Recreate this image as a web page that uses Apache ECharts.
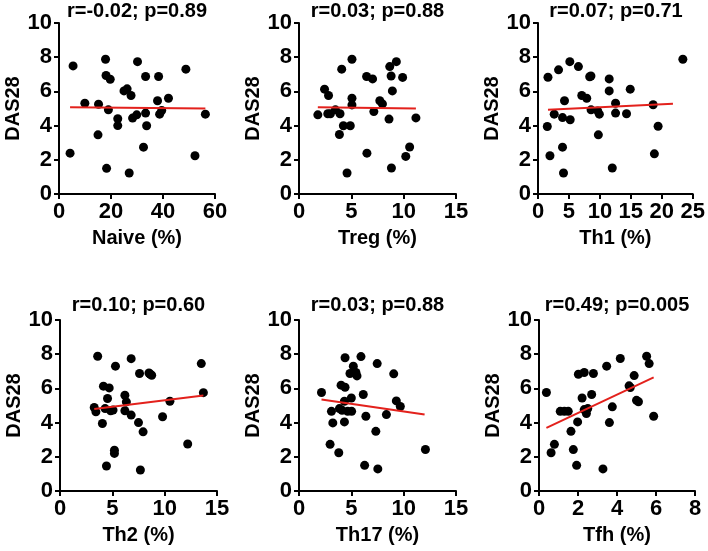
<!DOCTYPE html>
<html>
<head>
<meta charset="utf-8">
<script src="https://cdn.jsdelivr.net/npm/echarts@6/dist/echarts.min.js"></script>
<style>html,body{margin:0;padding:0;background:#fff}#c{width:708px;height:551px}</style>
</head>
<body>
<div id="c"></div>
<script>
// ---- Data ----
var titles = ['r=-0.02; p=0.89','r=0.03; p=0.88','r=0.07; p=0.71','r=0.10; p=0.60','r=0.03; p=0.88','r=0.49; p=0.005'];
var xNames = ['Naive (%)','Treg (%)','Th1 (%)','Th2 (%)','Th17 (%)','Tfh (%)'];
var xMax = [60,15,25,15,15,8];
var xInterval = [20,5,5,5,5,2];

var naiveX = [5.42,4.26,9.94,15.2,15.0,17.9,18.1,19.7,19.0,18.3,22.6,22.6,25.0,26.2,27.7,28.3,29.9,30.2,27.0,33.3,33.3,33.7,32.5,38.3,37.9,38.7,39.5,42.1,48.8,52.3,56.3];
var naiveY = [7.49,2.39,5.31,5.25,3.46,7.88,6.93,6.71,4.92,1.50,4.40,4.00,6.03,6.15,5.76,4.44,4.63,7.74,1.23,4.73,6.87,3.99,2.74,6.87,5.45,4.67,4.88,5.60,7.30,2.24,4.67];
var naiveFit = [[4.26,5.08],[56.3,5.00]];

var tregX = [1.80,2.44,2.82,2.75,3.00,3.48,3.92,3.86,4.24,4.90,4.08,5.06,5.06,5.06,4.59,6.46,7.03,6.49,7.15,7.72,7.97,8.60,8.67,8.80,8.92,8.83,9.30,9.90,10.20,10.57,11.17];
var tregY = [4.63,6.13,5.76,4.69,4.69,4.92,4.69,3.48,3.99,3.99,7.30,7.88,5.60,5.21,1.23,6.87,6.73,2.39,4.82,5.45,5.27,4.38,7.45,6.90,6.03,1.52,7.74,6.82,2.20,2.75,4.45];
var tregFit = [[1.80,5.08],[11.17,5.00]];

var th1X = [1.61,1.50,1.93,2.62,3.32,3.96,4.12,3.96,4.28,5.20,5.14,6.53,7.07,7.87,8.35,8.55,8.57,9.64,9.91,9.75,11.5,11.5,12.53,12.53,12.0,14.3,14.9,18.6,18.8,19.4,23.4];
var th1Y = [6.83,3.95,2.24,4.67,7.26,2.74,1.23,4.47,5.45,4.34,7.74,7.45,5.76,5.60,6.86,6.90,4.92,4.86,4.67,3.46,6.73,6.03,5.31,4.73,1.52,4.69,6.13,5.22,2.35,3.96,7.88];
var th1Fit = [[1.61,4.92],[21.8,5.28]];

var th2X = [3.60,6.80,5.30,7.60,8.50,8.76,8.60,4.15,4.70,4.54,6.20,6.34,3.27,3.43,4.31,4.84,5.07,6.20,6.80,4.05,7.50,7.94,5.20,5.20,4.44,7.68,9.80,10.5,12.2,13.5,13.7];
var th2Y = [7.88,7.74,7.30,6.87,6.90,6.77,6.84,6.13,6.03,5.41,5.60,5.21,4.88,4.63,4.82,4.69,4.73,4.69,4.44,3.95,4.00,3.46,2.39,2.20,1.46,1.23,4.34,5.25,2.75,7.45,5.75];
var th2Fit = [[3.27,4.80],[13.7,5.58]];

var th17X = [4.40,5.92,5.19,7.47,4.87,5.44,5.54,9.05,4.02,4.40,2.15,6.14,5.00,4.34,3.86,3.10,4.11,4.65,5.03,6.39,8.35,3.23,4.34,7.34,2.97,3.80,6.27,7.53,9.30,9.68,12.08];
var th17Y = [7.79,7.86,7.30,7.45,6.87,6.93,6.73,6.85,6.19,6.07,5.76,5.64,5.44,5.25,4.82,4.66,4.72,4.66,4.66,4.37,4.47,3.98,4.04,3.49,2.73,2.24,1.50,1.29,5.27,4.94,2.43];
var th17Fit = [[2.15,5.35],[12.0,4.47]];

var tfhX = [0.38,0.62,0.79,1.09,1.30,1.50,1.64,1.76,1.93,1.98,2.02,2.32,2.79,2.21,2.70,2.32,2.50,2.43,3.76,3.61,3.47,4.17,3.28,4.62,4.68,4.88,5.00,5.10,5.52,5.65,5.88];
var tfhY = [5.76,2.24,2.73,4.66,4.66,4.66,3.49,2.42,1.50,4.04,6.83,6.93,6.87,5.44,5.64,4.76,4.82,4.53,4.92,4.00,7.30,7.75,1.29,6.15,6.05,6.75,5.30,5.22,7.88,7.45,4.37];
var tfhFit = [[0.38,3.69],[5.88,6.65]];

var yTicks = [0,2,4,6,8,10];

var allX = [naiveX,tregX,th1X,th2X,th17X,tfhX];
var allY = [naiveY,tregY,th1Y,th2Y,th17Y,tfhY];
var allFit = [naiveFit,tregFit,th1Fit,th2Fit,th17Fit,tfhFit];

// ---- Layout ----
var gridsPx = [
  {left:59, top:23, width:156, height:171, tt:1},
  {left:299, top:23, width:157, height:171, tt:1},
  {left:538, top:23, width:156, height:171, tt:1},
  {left:60, top:320, width:157, height:171, tt:295},
  {left:299, top:320, width:157, height:171, tt:295},
  {left:539, top:320, width:156, height:171, tt:295}
];
var FONT = '"Liberation Sans", Arial, sans-serif';
var grid=[], xAxis=[], yAxis=[], series=[], title=[];
for (var i=0;i<6;i++){
  var g = gridsPx[i];
  grid.push({left:g.left, top:g.top, width:g.width, height:g.height, containLabel:false});
  title.push({text:titles[i], left:g.left+g.width/2, top:g.tt, padding:0, textAlign:'center',
    textStyle:{fontFamily:FONT, fontWeight:'bold', fontSize:20, color:'#000'}});
  var mk = function(){ return {
    axisLine:{show:true, onZero:false, lineStyle:{color:'#000', width:2}},
    axisTick:{show:true, inside:false, length:5, lineStyle:{color:'#000', width:2}},
    splitLine:{show:false},
    axisLabel:{fontFamily:FONT, fontWeight:'bold', fontSize:22, color:'#000', margin:7},
    nameTextStyle:{fontFamily:FONT, fontWeight:'bold', fontSize:20, color:'#000'}
  };};
  xAxis.push(Object.assign({gridIndex:i, type:'value', min:0, max:xMax[i], interval:xInterval[i],
    name:xNames[i], nameLocation:'middle', nameGap:34}, mk()));
  yAxis.push(Object.assign({gridIndex:i, type:'value', min:0, max:10, interval:2,
    name:'DAS28', nameLocation:'middle', nameGap:35}, mk()));
  var pts = allX[i].map(function(x,k){return [x, allY[i][k]];});
  series.push({type:'scatter', xAxisIndex:i, yAxisIndex:i, data:pts, symbolSize:9,
    itemStyle:{color:'#000', opacity:1}, silent:true, animation:false});
  series.push({type:'line', xAxisIndex:i, yAxisIndex:i, data:allFit[i], symbol:'none',
    lineStyle:{color:'#e3211c', width:2}, silent:true, animation:false, z:3});
}
var chart = echarts.init(document.getElementById('c'), null, {renderer:'canvas'});
chart.setOption({backgroundColor:'#fff', animation:false, title:title, grid:grid, xAxis:xAxis, yAxis:yAxis, series:series});
</script>
</body>
</html>
